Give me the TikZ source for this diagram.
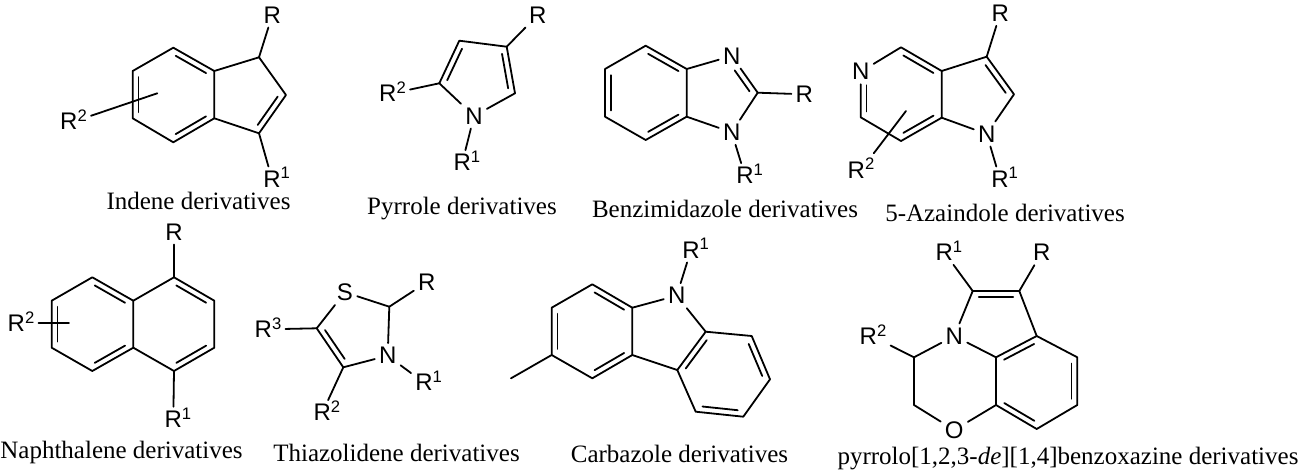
\documentclass[tikz,border=0pt]{standalone}
\usepackage{fontspec}
\setmainfont{Liberation Serif}
\setsansfont{Liberation Sans}
\usetikzlibrary{calc}
\newcommand\supA[1]{\rlap{\smash{\raisebox{6.2pt}{\fontsize{12.5pt}{13pt}\selectfont #1}}}}
\newcommand\supB[1]{\smash{\raisebox{6.2pt}{\fontsize{12.5pt}{13pt}\selectfont #1}}}
\newcommand\dblx[4]{\draw[bond] ($(#3)!#1!(#4)!4.4pt!90:(#4)$) -- ($(#4)!#2!(#3)!4.4pt!-90:(#3)$);}
\newcommand\dbl[3][.13]{\dblx{#1}{#1}{#2}{#3}}
\tikzset{
  bond/.style={line width=1.35pt,line join=round,line cap=round},
  atomlabel/.style={font=\sffamily\fontsize{18pt}{19pt}\selectfont,inner sep=3.2pt,outer sep=0pt,anchor=center},
  caption/.style={font=\fontsize{18.75pt}{20pt}\selectfont,inner sep=0pt,anchor=base}
}
\begin{document}
\begin{tikzpicture}[x=0.75pt,y=-0.75pt]
\useasboundingbox (0,0) rectangle (1300,471);
% ---------- Indene
\foreach \n/\x/\y in {ia/173.3/47.7,ib/132.7/71,ic/132.7/118.3,id/173.3/142.3,ie/214.3/118.3,if/214.3/71,ig/259/57.3,ih/286/95,ii/259/133.3,ij/157.3/93.3}
  \coordinate (\n) at (\x,\y);
\node[atomlabel] (iR) at (272.3,15) {R};
\node[atomlabel] (iR1) at (272,179) {R\supA{1}};
\node[atomlabel] (iR2) at (73.5,121.7) {R\supB{2}};
\draw[bond] (ia)--(ib)--(ic)--(id)--(ie)--(if)--cycle;
\draw[bond] (if)--(ig)--(ih)--(ii)--(ie);
\draw[bond] (ig)--(iR);
\draw[bond] (ii)--(iR1);
\draw[bond] (ij)--(iR2);
\dbl{ib}{ic}\dbl{id}{ie}\dbl{if}{ia}\dbl{ii}{ih}
\node[caption] (icap) at (198.5,209.5) {Indene derivatives};
% ---------- Pyrrole
\foreach \n/\x/\y in {pa/459.3/40.7,pb/506.7/46.7,pc/515/93.3,pe/439.3/83.3}
  \coordinate (\n) at (\x,\y);
\node[atomlabel] (pN) at (474,116) {N};
\node[atomlabel] (pR) at (537.7,15) {R};
\node[atomlabel] (pR1) at (462.3,162.7) {R\supA{1}};
\node[atomlabel] (pR2) at (392.5,93.3) {R\supB{2}};
\draw[bond] (pe)--(pa)--(pb)--(pc);
\draw[bond] (pc)--(pN);
\draw[bond] (pe)--(pN);
\draw[bond] (pb)--(pR);
\draw[bond] (pe)--(pR2);
\draw[bond] (pN)--(pR1);
\dbl{pa}{pe}\dbl{pc}{pb}
\node[caption] (pcap) at (462,214) {Pyrrole derivatives};
% ---------- Benzimidazole
\foreach \n/\x/\y in {ba/645.7/45.7,bb/605/69,bc/605/116.7,bd/645.7/140,be/686.7/116.7,bf/686.7/69,bg/757.7/92.7}
  \coordinate (\n) at (\x,\y);
\node[atomlabel] (bN3) at (731.7,56) {N};
\node[atomlabel] (bN1) at (731.7,132.3) {N};
\node[atomlabel] (bR) at (804.3,94.3) {R};
\node[atomlabel] (bR1) at (745,175.7) {R\supA{1}};
\draw[bond] (ba)--(bb)--(bc)--(bd)--(be)--(bf)--cycle;
\draw[bond] (bf)--(bN3);
\draw[bond] (be)--(bN1);
\draw[bond] (bN3)--(bg);
\draw[bond] (bN1)--(bg);
\draw[bond] (bg)--(bR);
\draw[bond] (bN1)--(bR1);
\dbl{bb}{bc}\dbl{bd}{be}\dbl{bf}{ba}\dblx{.13}{.3}{bg}{bN3}
\node[caption] (bcap) at (725,217) {Benzimidazole derivatives};
% ---------- 5-Azaindole
\foreach \n/\x/\y in {aa/901/47.3,ac/860.7/117.3,ad/901/141,ae/941.7/117.7,af/941.7/71,ag/986.7/56.7,ah/1014/94.3,ak/906/111}
  \coordinate (\n) at (\x,\y);
\node[atomlabel] (aN5) at (860.7,71.7) {N};
\node[atomlabel] (aN1) at (986.7,134) {N};
\node[atomlabel] (aR) at (1000.3,13.3) {R};
\node[atomlabel] (aR1) at (1000,179) {R\supA{1}};
\node[atomlabel] (aR2) at (861,170) {R\supB{2}};
\draw[bond] (aN5)--(aa)--(af)--(ae)--(ad)--(ac)--(aN5);
\draw[bond] (af)--(ag)--(ah)--(aN1);
\draw[bond] (ae)--(aN1);
\draw[bond] (ag)--(aR);
\draw[bond] (aN1)--(aR1);
\draw[bond,shorten >=4pt] (ak)--(aR2);
\dblx{.3}{.13}{aN5}{ac}\dbl{ad}{ae}\dbl{af}{aa}\dbl{ah}{ag}
\node[caption] (acap) at (1005,221) {5-Azaindole derivatives};
% ---------- Naphthalene
\foreach \n/\x/\y in {na/92.3/277.3,nb/51.7/300.7,nc/51.7/347.7,nd/92.3/371,ne/133.3/347.7,nf/133.3/300.7,ng/174/277.3,nh/214.3/300.7,ni/214.3/347.7,nj/174/371,nk/69/323.3}
  \coordinate (\n) at (\x,\y);
\node[atomlabel] (nR) at (174,232) {R};
\node[atomlabel] (nR1) at (173.3,419.3) {R\supA{1}};
\node[atomlabel] (nR2) at (21,323.3) {R\supB{2}};
\draw[bond] (na)--(nb)--(nc)--(nd)--(ne)--(nf)--cycle;
\draw[bond] (nf)--(ng)--(nh)--(ni)--(nj)--(ne);
\draw[bond] (ng)--(nR);
\draw[bond] (nj)--(nR1);
\draw[bond] (nk)--(nR2);
\dbl{nb}{nc}\dbl{nd}{ne}\dbl{nf}{na}\dbl{nh}{ng}\dbl{nj}{ni}
\node[caption] (ncap) at (121.5,458) {Naphthalene derivatives};
% ---------- Thiazolidene
\foreach \n/\x/\y in {ta/389.3/306.7,tb/343.3/367.3,tc/316.7/328.3}
  \coordinate (\n) at (\x,\y);
\node[atomlabel] (tS) at (345,292.3) {S};
\node[atomlabel] (tN) at (387.7,355.7) {N};
\node[atomlabel] (tR) at (426.7,282.3) {R};
\node[atomlabel] (tR1) at (424,382.7) {R\supA{1}};
\node[atomlabel] (tR2) at (322.3,412.7) {R\supA{2}};
\node[atomlabel] (tR3) at (268,329.3) {R\supB{3}};
\draw[bond] (tS)--(ta);
\draw[bond] (ta)--(tN);
\draw[bond] (tN)--(tb);
\draw[bond] (tb)--(tc);
\draw[bond] (tc)--(tS);
\draw[bond] (ta)--(tR);
\draw[bond] (tN)--(tR1);
\draw[bond] (tb)--(tR2);
\draw[bond] (tc)--(tR3);
\dbl{tc}{tb}
\node[caption] (tcap) at (396.5,461.7) {Thiazolidene derivatives};
% ---------- Carbazole
\foreach \n/\x/\y in {ca/592.3/284.3,cb/551.7/307.7,cc/551.7/355,cd/592.3/378.3,ce/632.3/355,cf/632.3/307.7,cg/705.7/331.7,ch/677.3/370,ci/751.7/336,cj/770/379.3,ck/743.3/416.7,cl/695.7/411.7,cm/511/378.3}
  \coordinate (\n) at (\x,\y);
\node[atomlabel] (cN) at (676.7,295.7) {N};
\node[atomlabel] (cR1) at (691,250) {R\supA{1}};
\draw[bond] (ca)--(cb)--(cc)--(cd)--(ce)--(cf)--cycle;
\draw[bond] (cg)--(ci)--(cj)--(ck)--(cl)--(ch)--cycle;
\draw[bond] (ce)--(ch);
\draw[bond] (cf)--(cN);
\draw[bond] (cg)--(cN);
\draw[bond] (cN)--(cR1);
\draw[bond] (cc)--(cm);
\dbl{cb}{cc}\dbl{cd}{ce}\dbl{cf}{ca}\dbl{cg}{ch}\dbl{cl}{ck}\dbl{cj}{ci}
\node[caption] (ccap) at (679.5,462.7) {Carbazole derivatives};
% ---------- Pyrrolo-benzoxazine
\foreach \n/\x/\y in {xa/972.7/291,xb/1019.3/291,xc/1036.7/336,xd/996/357.3,xe/1077.3/357.3,xf/1077.3/405,xg/1036.7/429,xh/996/405,xi/914/405,xj/914/357.3}
  \coordinate (\n) at (\x,\y);
\node[atomlabel] (xN) at (954.3,336) {N};
\node[atomlabel] (xO) at (954.3,430) {O};
\node[atomlabel] (xR) at (1041.7,252.7) {R};
\node[atomlabel] (xR1) at (944.3,252.3) {R\supA{1}};
\node[atomlabel] (xR2) at (873,336.7) {R\supB{2}};
\draw[bond] (xc)--(xd)--(xh)--(xg)--(xf)--(xe)--cycle;
\draw[bond] (xc)--(xb)--(xa);
\draw[bond] (xa)--(xN);
\draw[bond] (xN)--(xd);
\draw[bond] (xN)--(xj);
\draw[bond] (xj)--(xi);
\draw[bond] (xi)--(xO);
\draw[bond] (xO)--(xh);
\draw[bond] (xa)--(xR1);
\draw[bond] (xb)--(xR);
\draw[bond] (xj)--(xR2);
\dbl{xb}{xa}\dbl{xc}{xd}\dbl{xh}{xg}\dbl{xf}{xe}
\node[caption] (xcap) at (1068,464) {pyrrolo[1,2,3-\textit{de}][1,4]benzoxazine derivatives};
\end{tikzpicture}
\end{document}
